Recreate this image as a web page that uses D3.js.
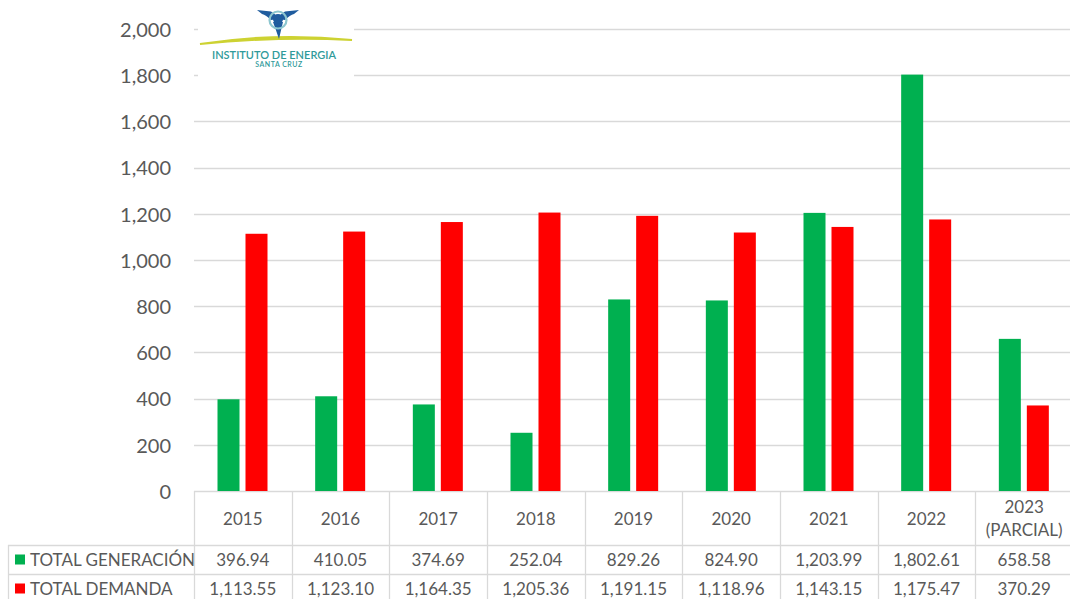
<!DOCTYPE html>
<html>
<head>
<meta charset="utf-8">
<script src="https://cdn.jsdelivr.net/npm/d3@7"></script>
<style>
  html, body { margin: 0; padding: 0; background: #ffffff; }
  svg { display: block; }
  text { font-family: Lato, "Noto Sans", sans-serif; fill: #595959; }
</style>
</head>
<body>
<svg id="chart" width="1070" height="599"></svg>
<script>
// Energy generation vs demand by year
const categories = ["2015", "2016", "2017", "2018", "2019", "2020", "2021", "2022", "2023 (PARCIAL)"];
const categoryLines = [["2015"], ["2016"], ["2017"], ["2018"], ["2019"], ["2020"], ["2021"], ["2022"], ["2023", "(PARCIAL)"]];
const seriesNames = ["TOTAL GENERACIÓN", "TOTAL DEMANDA"];
const seriesColors = ["#00b050", "#ff0000"];
const generacion = [396.94, 410.05, 374.69, 252.04, 829.26, 824.90, 1203.99, 1802.61, 658.58];
const demanda = [1113.55, 1123.10, 1164.35, 1205.36, 1191.15, 1118.96, 1143.15, 1175.47, 370.29];
const yTicks = [0, 200, 400, 600, 800, 1000, 1200, 1400, 1600, 1800, 2000];

const seriesValues = [generacion, demanda];

const svg = d3.select("#chart");
const gridColor = "#d9d9d9";

const plotLeft = 194, plotRight = 1073, plotTop = 29, plotBottom = 491;
const tableLeft = 8, row1 = 545, row2 = 574, tableBottom = 603;

const x = d3.scaleBand().domain(categories).range([plotLeft, plotRight]).paddingInner(0).paddingOuter(0);
const xs = d3.scaleBand().domain(seriesNames).range([23.5, 73.5]).paddingInner(0.214).paddingOuter(0);
const y = d3.scaleLinear().domain([0, 2000]).range([plotBottom, plotTop]);

// Gridlines
svg.append("g")
  .selectAll("line")
  .data(yTicks)
  .join("line")
  .attr("x1", plotLeft).attr("x2", plotRight)
  .attr("y1", d => Math.round(y(d)) + 0.5).attr("y2", d => Math.round(y(d)) + 0.5)
  .attr("stroke", gridColor).attr("stroke-width", 1.3);

// Y axis labels
const yAxis = d3.axisLeft(y).tickValues(yTicks).tickFormat(d3.format(",")).tickSize(0).tickPadding(0);
const gy = svg.append("g").attr("transform", `translate(171,0)`).call(yAxis);
gy.select(".domain").remove();
gy.selectAll("text")
  .style("font-family", "Lato, 'Noto Sans', sans-serif")
  .style("font-size", "20px")
  .attr("fill", "#595959")
  .attr("dy", "0.36em");

// Bars
const groups = svg.append("g")
  .selectAll("g")
  .data(categories)
  .join("g")
  .attr("transform", d => `translate(${x(d)},0)`);

groups.selectAll("rect")
  .data((d, i) => seriesNames.map((s, k) => ({ s, k, v: seriesValues[k][i] })))
  .join("rect")
  .attr("x", d => xs(d.s))
  .attr("width", xs.bandwidth())
  .attr("y", d => y(d.v))
  .attr("height", d => y(0) - y(d.v))
  .attr("fill", d => seriesColors[d.k]);

// Data table
const table = svg.append("g");
const boundaries = categories.map(c => x(c)).concat([plotRight]);
table.selectAll("line.v")
  .data(boundaries)
  .join("line")
  .attr("class", "v")
  .attr("x1", d => Math.round(d) + 0.5).attr("x2", d => Math.round(d) + 0.5)
  .attr("y1", plotBottom).attr("y2", tableBottom)
  .attr("stroke", gridColor).attr("stroke-width", 1.3);
table.append("line")
  .attr("x1", tableLeft + 0.5).attr("x2", tableLeft + 0.5)
  .attr("y1", row1).attr("y2", tableBottom)
  .attr("stroke", gridColor).attr("stroke-width", 1.3);
table.selectAll("line.h")
  .data([row1, row2])
  .join("line")
  .attr("class", "h")
  .attr("x1", tableLeft).attr("x2", plotRight)
  .attr("y1", d => d + 0.5).attr("y2", d => d + 0.5)
  .attr("stroke", gridColor).attr("stroke-width", 1.3);

// Header (categories)
categories.forEach((c, i) => {
  const lines = categoryLines[i];
  const cx = x(c) + x.bandwidth() / 2;
  const t = table.append("text")
    .attr("x", cx)
    .attr("text-anchor", "middle")
    .style("font-size", "17px");
  const startY = lines.length === 1 ? 525 : 513;
  lines.forEach((ln, j) => {
    t.append("tspan").attr("x", cx).attr("y", startY + j * 23).text(ln);
  });
});

// Rows
const fmt = d3.format(",.2f");
const rowYs = [row1, row2];
seriesNames.forEach((s, k) => {
  const top = rowYs[k];
  const mid = top + 14.5;
  table.append("rect")
    .attr("x", 15).attr("y", mid - 5).attr("width", 10).attr("height", 10)
    .attr("fill", seriesColors[k]);
  table.append("text")
    .attr("x", 30).attr("y", mid).attr("dy", "0.36em")
    .style("font-size", "17px")
    .text(s);
  categories.forEach((c, i) => {
    table.append("text")
      .attr("x", x(c) + x.bandwidth() / 2)
      .attr("y", mid).attr("dy", "0.36em")
      .attr("text-anchor", "middle")
      .style("font-size", "17px")
      .text(fmt(seriesValues[k][i]));
  });
});

// Logo: Instituto de Energía Santa Cruz
const logo = svg.append("g");
logo.append("rect").attr("x", 198).attr("y", 0).attr("width", 156).attr("height", 80).attr("fill", "#ffffff");
// swoosh
logo.append("path")
  .attr("d", "M200,44 Q275,32 352,40 Q275,36.5 200,44 Z")
  .attr("fill", "#cdd232").attr("stroke", "#cdd232").attr("stroke-width", 1.8);
// propeller blades
const blue = "#1f5c9e";
logo.append("path")
  .attr("d", "M257,10 L271,11.5 Q276,14 279,19 L271,20 Q266,15 262,14 Z")
  .attr("fill", blue);
logo.append("path")
  .attr("d", "M299,10 L285,11.5 Q280,14 277,19 L285,20 Q290,15 294,14 Z")
  .attr("fill", blue);
logo.append("path")
  .attr("d", "M273,22 L283,22 Q281,30 279,39 Q276,30 273,22 Z")
  .attr("fill", blue);
logo.append("circle").attr("cx", 278).attr("cy", 20).attr("r", 8.5)
  .attr("fill", "none").attr("stroke", "#8cc6cf").attr("stroke-width", 2.2);
logo.append("circle").attr("cx", 278).attr("cy", 19).attr("r", 5).attr("fill", blue);
logo.append("text")
  .attr("x", 274).attr("y", 59)
  .attr("text-anchor", "middle")
  .style("font-size", "11px").style("font-weight", "600")
  .style("fill", "#2f9a9a")
  .text("INSTITUTO DE ENERGIA");
logo.append("text")
  .attr("x", 279).attr("y", 67)
  .attr("text-anchor", "middle")
  .style("font-size", "7px").style("font-weight", "600")
  .style("fill", "#2f9a9a")
  .style("letter-spacing", "0.5px")
  .text("SANTA CRUZ");
</script>
</body>
</html>
